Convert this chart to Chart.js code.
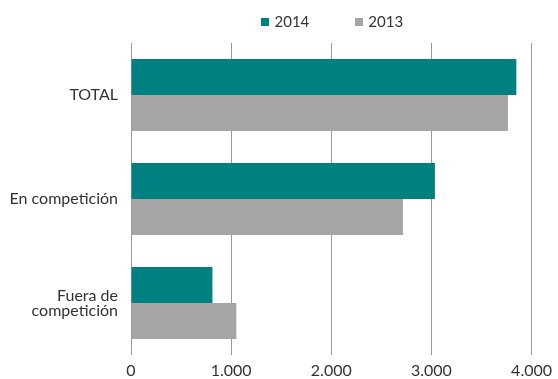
<!DOCTYPE html>
<html><head><meta charset="utf-8">
<script src="https://cdn.jsdelivr.net/npm/chart.js@4"></script>
<style>html,body{margin:0;padding:0;background:#fff}#wrap{width:558px;height:379px}</style>
</head><body><div id="wrap"><canvas id="c"></canvas></div>
<script>
const categories = [["TOTAL"], ["En competición"], ["Fuera de", "competición"]];
const series2014 = [3848, 3035, 813];
const series2013 = [3764, 2716, 1052];
const xTicks = [0, 1000, 2000, 3000, 4000];
const seriesNames = ["2014", "2013"];
const seriesColors = ["#008080", "#a6a6a6"];

const FONT = "Lato, 'Open Sans', sans-serif";
const TEXT = "#333333";

const legendPlugin = {
  id: 'customLegend',
  afterDraw(chart) {
    const ctx = chart.ctx;
    const ca = chart.chartArea;
    ctx.save();
    ctx.font = "15px " + FONT;
    ctx.textBaseline = 'middle';
    ctx.textAlign = 'left';
    const box = 8, gapText = 5, gapItem = 46;
    const items = chart.data.datasets.map(d => ({label: d.label, color: d.backgroundColor, w: ctx.measureText(d.label).width}));
    let total = 0;
    items.forEach((it, i) => { total += box + gapText + it.w + (i < items.length - 1 ? gapItem : 0); });
    let x = (ca.left + ca.right) / 2 - total / 2 + 1;
    const y = 22.5;
    items.forEach(it => {
      ctx.fillStyle = it.color;
      ctx.fillRect(Math.round(x), Math.round(y - box / 2 - 0.5), box, box);
      ctx.fillStyle = TEXT;
      ctx.fillText(it.label, x + box + gapText, y);
      x += box + gapText + it.w + gapItem;
    });
    ctx.restore();
  }
};

new Chart(document.getElementById('c'), {
  type: 'bar',
  data: {
    labels: categories,
    datasets: [
      {label: seriesNames[0], data: series2014, backgroundColor: seriesColors[0], categoryPercentage: 0.69, barPercentage: 1},
      {label: seriesNames[1], data: series2013, backgroundColor: seriesColors[1], categoryPercentage: 0.69, barPercentage: 1}
    ]
  },
  plugins: [legendPlugin],
  options: {
    indexAxis: 'y',
    responsive: true,
    maintainAspectRatio: false,
    animation: false,
    layout: {padding: {left: 0, right: 25, top: 43, bottom: 0}},
    plugins: {
      legend: {display: false},
      tooltip: {enabled: false}
    },
    scales: {
      x: {
        min: 0, max: 4000,
        afterBuildTicks: (s) => { s.ticks = xTicks.map(v => ({value: v})); },
        afterFit: (s) => { s.height = 24; },
        ticks: {color: TEXT, font: {family: FONT, size: 16}, padding: 6,
          callback: (v) => v.toLocaleString('de-DE')},
        grid: {color: '#999', drawTicks: false},
        border: {display: false}
      },
      y: {
        afterFit: (s) => { s.width = 131; },
        ticks: {color: TEXT, font: {family: FONT, size: 16, lineHeight: 0.95}, padding: 13},
        grid: {display: false, drawTicks: false},
        border: {display: false}
      }
    }
  }
});
</script></body></html>
